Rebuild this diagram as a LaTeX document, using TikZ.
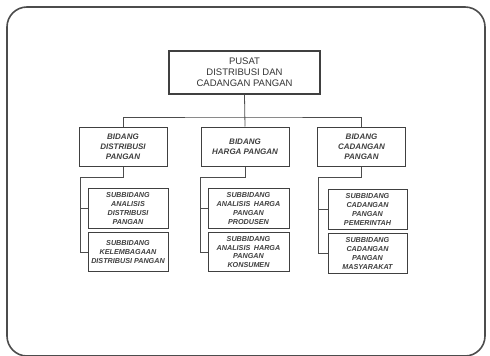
\documentclass[tikz,border=0pt]{standalone}
\usepackage{fontspec}
\setmainfont{Liberation Sans}
\usetikzlibrary{positioning}
\begin{document}
\begin{tikzpicture}[x=1pt, y=-1pt, line join=miter,
    pusatbox/.style={draw=black!75, line width=1.1pt, fill=white, minimum width=151pt, minimum height=43pt, inner sep=0pt, align=center, font=\fontsize{9.5}{11}\selectfont, text=black!80},
    bidangbox/.style={draw=black!75, line width=1pt, fill=white, minimum width=88pt, minimum height=39pt, inner sep=0pt, align=center, font=\fontsize{8}{10}\selectfont\bfseries\itshape, text=black!75},
    subbox/.style={draw=black!75, line width=1pt, fill=white, minimum width=80pt, minimum height=39.5pt, inner sep=0pt, align=center, font=\fontsize{7.2}{8.7}\selectfont\bfseries\itshape, text=black!75},
    link/.style={draw=black!70, line width=0.8pt}]

\useasboundingbox (0,0) rectangle (490,356);
\begin{scope}
\clip (0,0) rectangle (490,356);
\draw[draw=black!70, line width=1.6pt, rounded corners=20pt] (7,7) rectangle (485,356);
\end{scope}

% head
\node[pusatbox] (pusat) at (244.5,72.5) {PUSAT\\DISTRIBUSI DAN\\CADANGAN PANGAN};

% bidang
\node[bidangbox] (bidDist) at (123,146.5) {BIDANG\\DISTRIBUSI\\PANGAN};
\node[bidangbox] (bidHarga) at (245,146.5) {BIDANG\\HARGA PANGAN};
\node[bidangbox] (bidCad) at (361.5,146.5) {BIDANG\\CADANGAN\\PANGAN};

% subbidang
\node[subbox] (subDistA) at (128,208.5) {SUBBIDANG\\ANALISIS\\DISTRIBUSI\\PANGAN};
\node[subbox] (subDistB) at (128,252) {SUBBIDANG\\KELEMBAGAAN\\DISTRIBUSI PANGAN};
\node[subbox, minimum width=81pt] (subHargaA) at (248.5,208.5) {SUBBIDANG\\ANALISIS\enspace HARGA\\PANGAN\\PRODUSEN};
\node[subbox, minimum width=81pt] (subHargaB) at (248.5,252) {SUBBIDANG\\ANALISIS\enspace HARGA\\PANGAN\\KONSUMEN};
\node[subbox, minimum width=79pt] (subCadA) at (367.5,209.5) {SUBBIDANG\\CADANGAN\\PANGAN\\PEMERINTAH};
\node[subbox, minimum width=79pt] (subCadB) at (367.5,253.5) {SUBBIDANG\\CADANGAN\\PANGAN\\MASYARAKAT};

% bus from head to bidang
\coordinate (bus) at (245,117);
\draw[link] (pusat.south) -- (bidHarga.north);
\draw[link] (bidDist.north) |- (bus) -| (bidCad.north);

% branches to subbidang
\coordinate (jDist) at (80,177);
\coordinate (jHarga) at (200,177);
\coordinate (jCad) at (318,177);
\draw[link] (bidDist.south) |- (jDist) |- (subDistB.west);
\draw[link] (jDist |- subDistA.west) -- (subDistA.west);
\draw[link] (bidHarga.south) |- (jHarga) |- (subHargaB.west);
\draw[link] (jHarga |- subHargaA.west) -- (subHargaA.west);
\draw[link] (bidCad.south) |- (jCad) |- (subCadB.west);
\draw[link] (jCad |- subCadA.west) -- (subCadA.west);
\end{tikzpicture}
\end{document}
